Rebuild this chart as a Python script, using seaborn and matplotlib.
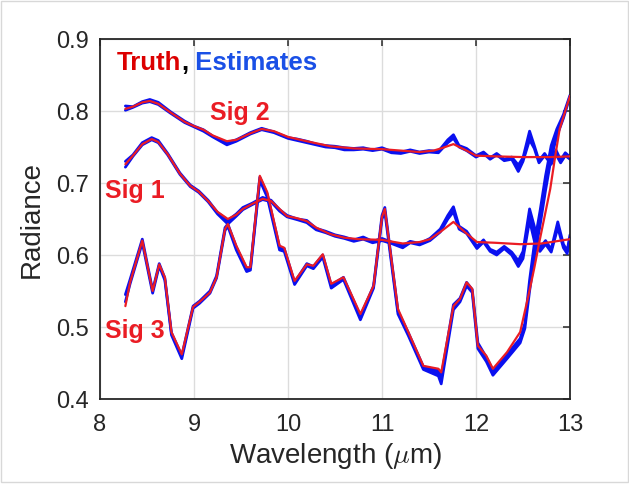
import matplotlib
matplotlib.use("Agg")
import matplotlib.pyplot as plt
import seaborn as sns
from matplotlib.patches import Rectangle

# ---------------- data ----------------
# Sig 1 truth
x1 = [8.27, 8.35, 8.45, 8.55, 8.62, 8.72, 8.85, 8.96, 9.05, 9.15, 9.25, 9.36, 9.45, 9.52,
      9.62, 9.73, 9.82, 9.91, 9.99, 10.1, 10.2, 10.3, 10.45, 10.6, 10.75, 11.0, 11.22, 11.4,
      11.51, 11.62, 11.76, 11.88, 12.01, 12.2, 12.47, 12.7, 13.0]
sig1_truth = [0.726, 0.738, 0.754, 0.761, 0.757, 0.740, 0.713, 0.696, 0.688, 0.675, 0.660, 0.650,
              0.656, 0.664, 0.671, 0.678, 0.675, 0.664, 0.654, 0.651, 0.647, 0.638, 0.629, 0.624,
              0.622, 0.621, 0.616, 0.618, 0.622, 0.632, 0.646, 0.632, 0.618, 0.617, 0.615, 0.616,
              0.622]

# Sig 1 estimates
x1e = [8.27, 8.35, 8.45, 8.55, 8.62, 8.72, 8.85, 8.96, 9.05, 9.15, 9.25, 9.36, 9.45, 9.52,
       9.62, 9.73, 9.82, 9.91, 9.99, 10.1, 10.2, 10.3, 10.4, 10.5, 10.6, 10.7, 10.8, 10.9,
       11.0, 11.1, 11.22, 11.3, 11.4, 11.51, 11.62, 11.7, 11.76, 11.82, 11.9, 12.01, 12.08,
       12.15, 12.22, 12.3, 12.38, 12.45, 12.5, 12.57, 12.62, 12.68, 12.74, 12.8, 12.87, 12.93,
       12.97, 13.0]
sig1_est_a = [0.730, 0.739, 0.756, 0.763, 0.759, 0.741, 0.714, 0.697, 0.689, 0.676, 0.659, 0.648,
              0.657, 0.666, 0.672, 0.680, 0.676, 0.663, 0.655, 0.650, 0.648, 0.637, 0.633, 0.628,
              0.625, 0.621, 0.625, 0.619, 0.623, 0.618, 0.613, 0.619, 0.616, 0.623, 0.636, 0.655,
              0.667, 0.640, 0.633, 0.612, 0.621, 0.608, 0.604, 0.612, 0.604, 0.592, 0.605, 0.664,
              0.640, 0.610, 0.620, 0.608, 0.646, 0.615, 0.606, 0.628]
sig1_est_b = [0.722, 0.737, 0.753, 0.760, 0.756, 0.739, 0.712, 0.695, 0.687, 0.674, 0.657, 0.643,
              0.654, 0.663, 0.670, 0.677, 0.674, 0.661, 0.653, 0.649, 0.645, 0.635, 0.631, 0.626,
              0.623, 0.619, 0.622, 0.617, 0.620, 0.616, 0.610, 0.617, 0.614, 0.620, 0.632, 0.650,
              0.660, 0.636, 0.630, 0.609, 0.618, 0.605, 0.600, 0.609, 0.600, 0.584, 0.595, 0.648,
              0.620, 0.605, 0.615, 0.604, 0.638, 0.610, 0.602, 0.624]

# Sig 2 truth
x2 = [8.27, 8.35, 8.45, 8.53, 8.62, 8.75, 8.9, 9.0, 9.1, 9.2, 9.35, 9.45, 9.6, 9.72, 9.85,
      10.0, 10.2, 10.45, 10.7, 11.0, 11.2, 11.4, 11.55, 11.65, 11.76, 11.9, 12.0, 12.2, 12.5,
      12.8, 13.0]
sig2_truth = [0.803, 0.806, 0.812, 0.814, 0.810, 0.798, 0.785, 0.779, 0.774, 0.766, 0.758, 0.760,
              0.769, 0.775, 0.772, 0.764, 0.758, 0.751, 0.748, 0.747, 0.745, 0.743, 0.745, 0.749,
              0.754, 0.745, 0.738, 0.737, 0.736, 0.736, 0.737]

# Sig 2 estimates
x2e = [8.27, 8.35, 8.45, 8.53, 8.62, 8.75, 8.9, 9.0, 9.1, 9.2, 9.35, 9.45, 9.6, 9.72, 9.85,
       10.0, 10.1, 10.2, 10.3, 10.4, 10.5, 10.6, 10.7, 10.8, 10.9, 11.0, 11.1, 11.2, 11.3,
       11.4, 11.5, 11.6, 11.7, 11.76, 11.82, 11.9, 12.0, 12.08, 12.15, 12.22, 12.3, 12.38,
       12.45, 12.5, 12.57, 12.62, 12.67, 12.73, 12.8, 12.85, 12.9, 12.95, 13.0]
sig2_est_a = [0.807, 0.806, 0.813, 0.816, 0.812, 0.799, 0.786, 0.779, 0.774, 0.765, 0.756, 0.760,
              0.770, 0.776, 0.771, 0.763, 0.761, 0.758, 0.754, 0.752, 0.751, 0.749, 0.748, 0.749,
              0.746, 0.749, 0.744, 0.743, 0.746, 0.743, 0.745, 0.744, 0.760, 0.767, 0.752, 0.748,
              0.738, 0.743, 0.735, 0.741, 0.733, 0.736, 0.725, 0.735, 0.772, 0.752, 0.731, 0.741,
              0.728, 0.746, 0.732, 0.742, 0.736]
sig2_est_b = [0.801, 0.805, 0.811, 0.813, 0.809, 0.797, 0.784, 0.778, 0.772, 0.764, 0.753, 0.758,
              0.768, 0.774, 0.770, 0.762, 0.759, 0.756, 0.753, 0.750, 0.749, 0.746, 0.746, 0.747,
              0.745, 0.747, 0.742, 0.741, 0.744, 0.741, 0.743, 0.742, 0.756, 0.762, 0.750, 0.745,
              0.736, 0.741, 0.733, 0.739, 0.731, 0.733, 0.716, 0.730, 0.760, 0.748, 0.728, 0.738,
              0.726, 0.740, 0.728, 0.738, 0.733]

# Sig 3 truth
x3 = [8.27, 8.32, 8.45, 8.56, 8.63, 8.69, 8.76, 8.87, 8.99, 9.06, 9.17, 9.24, 9.33, 9.36, 9.45,
      9.56, 9.60, 9.70, 9.78, 9.91, 9.96, 10.07, 10.2, 10.27, 10.37, 10.46, 10.59, 10.77, 10.91,
      11.0, 11.03, 11.17, 11.28, 11.44, 11.60, 11.63, 11.76, 11.83, 11.90, 11.96, 12.02, 12.11,
      12.18, 12.33, 12.47, 12.56, 12.62, 12.68, 12.74, 12.79, 12.84, 12.89, 12.95, 13.0]
sig3_truth = [0.529, 0.562, 0.620, 0.550, 0.587, 0.569, 0.493, 0.462, 0.528, 0.535, 0.548, 0.569,
              0.636, 0.643, 0.613, 0.583, 0.583, 0.710, 0.687, 0.613, 0.610, 0.564, 0.587, 0.585,
              0.601, 0.560, 0.569, 0.518, 0.557, 0.653, 0.664, 0.525, 0.493, 0.446, 0.442, 0.437,
              0.529, 0.539, 0.562, 0.553, 0.474, 0.460, 0.442, 0.465, 0.493, 0.545, 0.582, 0.622,
              0.660, 0.692, 0.735, 0.775, 0.800, 0.821]

# Sig 3 estimates
x3e = [8.27, 8.32, 8.45, 8.56, 8.63, 8.69, 8.76, 8.87, 8.99, 9.06, 9.17, 9.24, 9.33, 9.36, 9.45,
       9.56, 9.60, 9.70, 9.78, 9.91, 9.96, 10.07, 10.2, 10.27, 10.37, 10.46, 10.59, 10.77, 10.91,
       11.0, 11.03, 11.17, 11.28, 11.44, 11.60, 11.63, 11.76, 11.83, 11.90, 11.96, 12.02, 12.11,
       12.18, 12.33, 12.47, 12.52, 12.57, 12.62, 12.68, 12.74, 12.80, 12.86, 12.93, 13.0]
sig3_est_a = [0.545, 0.566, 0.622, 0.551, 0.588, 0.568, 0.492, 0.460, 0.529, 0.536, 0.550, 0.571,
              0.638, 0.643, 0.611, 0.581, 0.582, 0.708, 0.684, 0.611, 0.609, 0.562, 0.588, 0.584,
              0.600, 0.558, 0.569, 0.515, 0.557, 0.655, 0.666, 0.522, 0.492, 0.445, 0.440, 0.430,
              0.531, 0.540, 0.562, 0.552, 0.478, 0.458, 0.440, 0.462, 0.484, 0.505, 0.565, 0.615,
              0.660, 0.710, 0.752, 0.775, 0.795, 0.822]
sig3_est_b = [0.535, 0.560, 0.617, 0.547, 0.585, 0.565, 0.489, 0.456, 0.526, 0.533, 0.547, 0.568,
              0.634, 0.640, 0.607, 0.577, 0.579, 0.704, 0.680, 0.607, 0.605, 0.559, 0.585, 0.581,
              0.597, 0.554, 0.566, 0.510, 0.554, 0.650, 0.660, 0.518, 0.488, 0.441, 0.432, 0.421,
              0.524, 0.535, 0.557, 0.548, 0.470, 0.452, 0.433, 0.456, 0.478, 0.498, 0.550, 0.595,
              0.640, 0.690, 0.735, 0.765, 0.790, 0.820]

x_ticks = [8, 9, 10, 11, 12, 13]
y_ticks = [0.4, 0.5, 0.6, 0.7, 0.8, 0.9]
y_tick_labels = ["0.4", "0.5", "0.6", "0.7", "0.8", "0.9"]

# ---------------- style ----------------
sns.set_theme(style="white")
plt.rcParams['font.family'] = ['Liberation Sans', 'DejaVu Sans']
plt.rcParams['mathtext.fontset'] = 'cm'

EST = "#0a10f0"
TRUTH = "#ea1c24"
INK = "#262626"

fig = plt.figure(figsize=(6.29, 4.85), dpi=100)
fig.patches.append(Rectangle((0.002, 0.004), 0.996, 0.992, transform=fig.transFigure,
                             fill=False, edgecolor="#d8d8d8", lw=1.0))
ax = fig.add_axes([100 / 629, 85 / 485, 470 / 629, 360 / 485])

for xe, ea, eb in [(x1e, sig1_est_a, sig1_est_b), (x2e, sig2_est_a, sig2_est_b),
                   (x3e, sig3_est_a, sig3_est_b)]:
    ax.fill_between(xe, ea, eb, color=EST, lw=0, zorder=2)
    sns.lineplot(x=xe, y=ea, ax=ax, color=EST, lw=2.0, estimator=None, sort=False,
                 legend=False, zorder=2)
    sns.lineplot(x=xe, y=eb, ax=ax, color=EST, lw=2.0, estimator=None, sort=False,
                 legend=False, zorder=2)

for xt, yt in [(x1, sig1_truth), (x2, sig2_truth), (x3, sig3_truth)]:
    sns.lineplot(x=xt, y=yt, ax=ax, color=TRUTH, lw=1.6, estimator=None, sort=False,
                 legend=False, zorder=3)

ax.set_xlim(8, 13)
ax.set_ylim(0.4, 0.9)
ax.set_xticks(x_ticks)
ax.set_xticklabels([str(v) for v in x_ticks])
ax.set_yticks(y_ticks)
ax.set_yticklabels(y_tick_labels)
ax.grid(True, color="#dcdcdc", lw=1.0, zorder=0)
ax.set_axisbelow(True)
for s in ax.spines.values():
    s.set_visible(True)
    s.set_color(INK)
    s.set_linewidth(1.3)
ax.tick_params(direction="in", length=5, width=1.1, top=True, right=True,
               colors=INK, labelsize=17)
ax.tick_params(axis="x", pad=10)
ax.tick_params(axis="y", pad=8)
ax.set_xlabel(r"Wavelength ($\mu$m)", fontsize=20, color=INK, labelpad=4)
ax.set_ylabel("Radiance", fontsize=20, color=INK, labelpad=8)

# annotations
t1 = ax.text(8.18, 0.858, "Truth", color="#dc0000", fontsize=18.5, fontweight="bold",
             va="baseline", ha="left", zorder=5)
t2 = ax.annotate(",", xy=(1, 0), xycoords=t1, va="bottom", ha="left", color="black",
                 fontsize=18.5, fontweight="bold", zorder=5)
ax.annotate(" Estimates", xy=(1, 0), xycoords=t2, va="bottom", ha="left", color="#1a50e6",
            fontsize=18.5, fontweight="bold", zorder=5)

for lbl, lx, ly in [("Sig 2", 9.17, 0.789), ("Sig 1", 8.053, 0.681), ("Sig 3", 8.053, 0.486)]:
    ax.text(lx, ly, lbl, color=TRUTH, fontsize=18, fontweight="bold", va="baseline",
            ha="left", zorder=5)

fig.savefig("out.png", dpi=100)
